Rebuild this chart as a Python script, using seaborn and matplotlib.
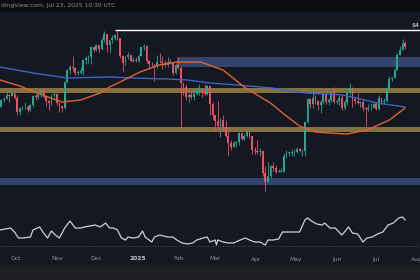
import numpy as np
import matplotlib
matplotlib.use("Agg")
import matplotlib.pyplot as plt
from matplotlib.patches import Rectangle
import seaborn as sns

# ---------------- data (ETH/USD, 2-day candles from Sep 19 2024) ----------------
first_open = 2450
closes = [
    2560, 2580, 2650, 2630, 2680, 2600,
    2360, 2420, 2440, 2440, 2390, 2470, 2630, 2610, 2640, 2750, 2620, 2540, 2510, 2640, 2660, 2510,
    2460, 2420, 2900, 3140, 3190, 3180, 3080, 3080, 3110, 3360, 3400, 3420, 3650, 3590, 3700,
    3620, 3850, 4000, 3720, 3830, 3900, 3960, 3880, 3440, 3280, 3420, 3480, 3330, 3350, 3340,
    3450, 3650, 3680, 3330, 3270, 3260, 3220, 3310, 3300, 3280, 3250, 3310, 3280, 3080, 3250, 3180,
    2870, 2790, 2620, 2640, 2610, 2670, 2720, 2740, 2720, 2660, 2810, 2500, 2310, 2220,
    2150, 2240, 2140, 2010, 1920, 1860, 1910, 1930, 2050, 1970, 2010, 2070, 2010, 1830, 1820,
    1800, 1810, 1560, 1470, 1530, 1640, 1620, 1580, 1580, 1580, 1760, 1790, 1790, 1800, 1800,
    1840, 1810, 1820, 2200, 2580, 2500, 2600, 2540, 2480, 2520, 2660, 2530, 2560, 2680, 2530, 2540,
    2590, 2420, 2530, 2680, 2780, 2580, 2540, 2510, 2520, 2420, 2410, 2420, 2420, 2500, 2410,
    2590, 2520, 2540, 2770, 2950, 2970, 3140, 3480, 3590, 3760, 3670,
]
highs = [
    2580, 2620, 2700, 2670, 2730, 2680,
    2640, 2440, 2460, 2520, 2470, 2490, 2650, 2690, 2660, 2760, 2770, 2630, 2560, 2660, 2720, 2680,
    2520, 2460, 2910, 3160, 3250, 3440, 3200, 3140, 3190, 3380, 3440, 3460, 3680, 3640, 3730,
    3710, 3890, 4090, 4010, 3840, 3970, 3990, 4107, 3890, 3480, 3450, 3530, 3480, 3420, 3430,
    3500, 3670, 3740, 3700, 3360, 3300, 3250, 3460, 3520, 3450, 3360, 3420, 3370, 3270, 3280, 3430,
    3220, 2900, 2860, 2680, 2720, 2770, 2790, 2850, 2760, 2850, 2830, 2820, 2520, 2320,
    2550, 2260, 2320, 2230, 2080, 1960, 1940, 1940, 2070, 2060, 2030, 2100, 2070, 2010, 1860,
    1950, 1850, 1820, 1640, 1690, 1650, 1690, 1650, 1610, 1620, 1790, 1830, 1820, 1840, 1830,
    1870, 1850, 1840, 2220, 2590, 2600, 2740, 2640, 2560, 2560, 2690, 2740, 2600, 2720, 2790, 2560,
    2650, 2640, 2560, 2700, 2880, 2790, 2600, 2680, 2540, 2570, 2450, 2490, 2510, 2520, 2520,
    2640, 2600, 2590, 2790, 3010, 2990, 3180, 3510, 3680, 3860, 3810,
]
lows = [
    2440, 2520, 2580, 2530, 2630, 2580,
    2320, 2310, 2400, 2410, 2360, 2380, 2440, 2560, 2580, 2620, 2600, 2460, 2400, 2480, 2620, 2480,
    2360, 2360, 2410, 2880, 3050, 3120, 3040, 3030, 3050, 3040, 3260, 3280, 3260, 3530, 3570,
    3520, 3600, 3800, 3530, 3520, 3760, 3840, 3840, 3400, 3100, 3250, 3380, 3300, 3300, 3300,
    3320, 3440, 3600, 3280, 3180, 3210, 2920, 3180, 3280, 3150, 3200, 3200, 3270, 3040, 3060, 3150,
    2120, 2640, 2560, 2520, 2570, 2560, 2650, 2650, 2620, 2640, 2640, 2320, 2250, 2080,
    2100, 1990, 2080, 1990, 1760, 1830, 1860, 1870, 1890, 1950, 1950, 1990, 1980, 1780, 1780,
    1780, 1760, 1530, 1385, 1470, 1510, 1590, 1560, 1570, 1570, 1570, 1730, 1750, 1760, 1760,
    1790, 1800, 1760, 1760, 2190, 2430, 2430, 2500, 2400, 2340, 2500, 2500, 2480, 2520, 2510, 2490,
    2480, 2400, 2400, 2480, 2650, 2440, 2500, 2490, 2450, 2380, 2150, 2380, 2390, 2420, 2390,
    2400, 2490, 2500, 2520, 2760, 2920, 2990, 3130, 3460, 3580, 3620,
]

# moving averages (day offset from Sep 19 2024, price)
ma200_days = [0, 25, 51, 83, 101, 127, 142, 159, 180, 206, 231, 260, 286, 307]
ma200_vals = [3199, 3073, 2970, 2991, 2970, 2950, 2931, 2871, 2834, 2776, 2685, 2648, 2509, 2442]
ma100_days = [0, 15, 30, 47, 61, 76, 83, 91, 106, 121, 134, 152, 169, 186, 205, 216, 227, 239, 250, 263, 278, 295, 307]
ma100_vals = [2931, 2814, 2667, 2526, 2560, 2685, 2796, 2891, 3093, 3244, 3309, 3309, 3135, 2776, 2509, 2313, 2148, 2063, 2049, 2035, 2091, 2237, 2426]

# RSI samples
rsi_days = [0, 8, 11, 14, 17, 23, 25, 30, 33, 36, 39, 42, 45, 49, 53, 57, 61, 64, 68, 72, 76, 80, 83, 86,
            89, 92, 95, 97, 101, 105, 108, 110, 115, 117, 121, 127, 131, 134, 138, 142, 146, 149, 154, 157,
            159, 163, 164, 165, 169, 173, 177, 182, 186, 189, 193, 197, 201, 203, 207, 211, 214, 218, 224,
            227, 231, 233, 236, 240, 244, 246, 250, 254, 259, 261, 264, 267, 271, 275, 278, 282, 286, 288,
            290, 294, 298, 302, 305, 307]
rsi_vals = [58.6, 62.1, 55, 44.3, 44.3, 46, 58.6, 64, 53.2, 44.3, 56.8, 49.6, 44.3, 62.1, 74.6, 62.1, 62.1,
            64, 65.7, 67.5, 64, 71, 62.1, 62.1, 58.6, 44.3, 40.7, 46, 44.3, 46, 56.8, 46, 37.1, 46, 49.6,
            46, 46, 40.7, 35.4, 33.6, 35.4, 40.7, 44.3, 46, 37.1, 40.7, 31.8, 40.7, 37.1, 35.4, 35.4, 40.7,
            44.3, 40.7, 37.1, 37.1, 31.8, 40.7, 40.7, 42.5, 55, 55, 55, 55, 76.4, 80, 74.6, 69.3, 67.5, 71,
            62.1, 62.1, 49.6, 55, 64, 53.2, 51.4, 37.1, 44.3, 46, 51.4, 53.2, 55, 67.5, 71, 80, 81.8, 76.4]
rsi_level = 30

# horizontal zones (low, high, start day)
zone_lo = [3200, 2690, 2060, 1445]
zone_hi = [3420, 2780, 2130, 1510]
zone_start = [134, 0, 0, 0]
zone_kind = ["blue", "gold", "gold", "blue"]

ath_price = 4107
ath_day = 87

month_days = [12, 43, 73, 104, 135, 163, 194, 224, 255, 285, 316]
month_labels = ["Oct", "Nov", "Dec", "2025", "Feb", "Mar", "Apr", "May", "Jun", "Jul", "Aug"]

# ---------------- style ----------------
BG = "#141823"
TOP = "#0c0d11"
BOT = "#1e1f23"
UP = "#26a792"
DN = "#ee4f64"
BLUE_Z = "#33446c"
GOLD_Z = "#85703f"

sns.set_theme(style="dark")
plt.rcParams["font.family"] = ["DejaVu Sans"]

W, H = 420, 280
fig = plt.figure(figsize=(4.2, 2.8), dpi=100, facecolor=BG)


def fy(p):
    return 1 - p / H


ax = fig.add_axes([0, fy(196), 1, (196 - 11) / H])
ax_r = fig.add_axes([0, fy(265), 1, (265 - 196) / H])
for a in (ax, ax_r):
    a.set_facecolor(BG)

fig.patches.append(Rectangle((0, fy(11)), 1, 11 / H, transform=fig.transFigure,
                             color=TOP, zorder=0))
fig.patches.append(Rectangle((0, 0), 1, 15 / H, transform=fig.transFigure,
                             color=BOT, zorder=0))

xmax = 318.2
c = np.array(closes, float)
hi = np.array(highs, float)
lo = np.array(lows, float)
n = len(c)
assert len(hi) == n and len(lo) == n, (n, len(hi), len(lo))
o = np.r_[first_open, c[:-1]]
hi = np.maximum(hi, np.maximum(o, c))
lo = np.minimum(lo, np.minimum(o, c))
days = np.arange(n) * 2 + 1.0
up = c >= o
cols = np.where(up, UP, DN)

ax.set_yscale("log")

# zones
for zl, zh, zs, zk in zip(zone_lo, zone_hi, zone_start, zone_kind):
    ax.fill_between([zs, xmax + 5], zl, zh, color=BLUE_Z if zk == "blue" else GOLD_Z,
                    lw=0, zorder=1)

# ATH line
ax.hlines(ath_price, ath_day, xmax + 5, color="white", lw=1.0, zorder=2)

# candles
ax.vlines(days, lo, hi, colors=cols, lw=0.6, zorder=3)
body_h = np.abs(c - o)
body_h = np.maximum(body_h, np.minimum(o, c) * 0.004)
ax.bar(days, body_h, bottom=np.minimum(o, c), width=1.35, color=cols, lw=0, zorder=4)

# moving averages
sns.lineplot(x=ma200_days, y=ma200_vals, ax=ax, color="#3f63c4", lw=1.0, zorder=5, legend=False)
sns.lineplot(x=ma100_days, y=ma100_vals, ax=ax, color="#dd6530", lw=1.0, zorder=5, legend=False)

top_p = ath_price * np.exp(0.00675 * 19)
bot_p = ath_price * np.exp(-0.00675 * 166)
ax.set_ylim(bot_p, top_p)
ax.set_xlim(0, xmax)
ax.axis("off")

# RSI panel
ax_r.axhline(rsi_level, color="#5d6170", ls=(0, (1, 2)), lw=0.6, zorder=1)
sns.lineplot(x=rsi_days, y=rsi_vals, ax=ax_r, color="#cdd0da", lw=0.9, zorder=3, legend=False)
ax_r.set_xlim(0, xmax)
ax_r.set_ylim(30 - 19 / 0.56, 30 + 50 / 0.56)
ax_r.axis("off")

tr = ax_r.get_xaxis_transform()
for d, lab in zip(month_days, month_labels):
    ax_r.text(d, (265 - 259) / 69, lab, transform=tr, ha="center", va="center",
              fontsize=4.3, color="#c4c7d0" if lab == "2025" else "#8d919c",
              fontweight="bold" if lab == "2025" else "normal", clip_on=False)

fig.text(1 / W, fy(6), "dingView.com, Jul 23, 2025 10:30 UTC", fontsize=4.3,
         color="#8c8f99", va="center", ha="left")
fig.text(411 / W, fy(26), "$4", fontsize=4.5, color="white", va="center", ha="left")

fig.savefig("out.png", dpi=100, facecolor=BG)
